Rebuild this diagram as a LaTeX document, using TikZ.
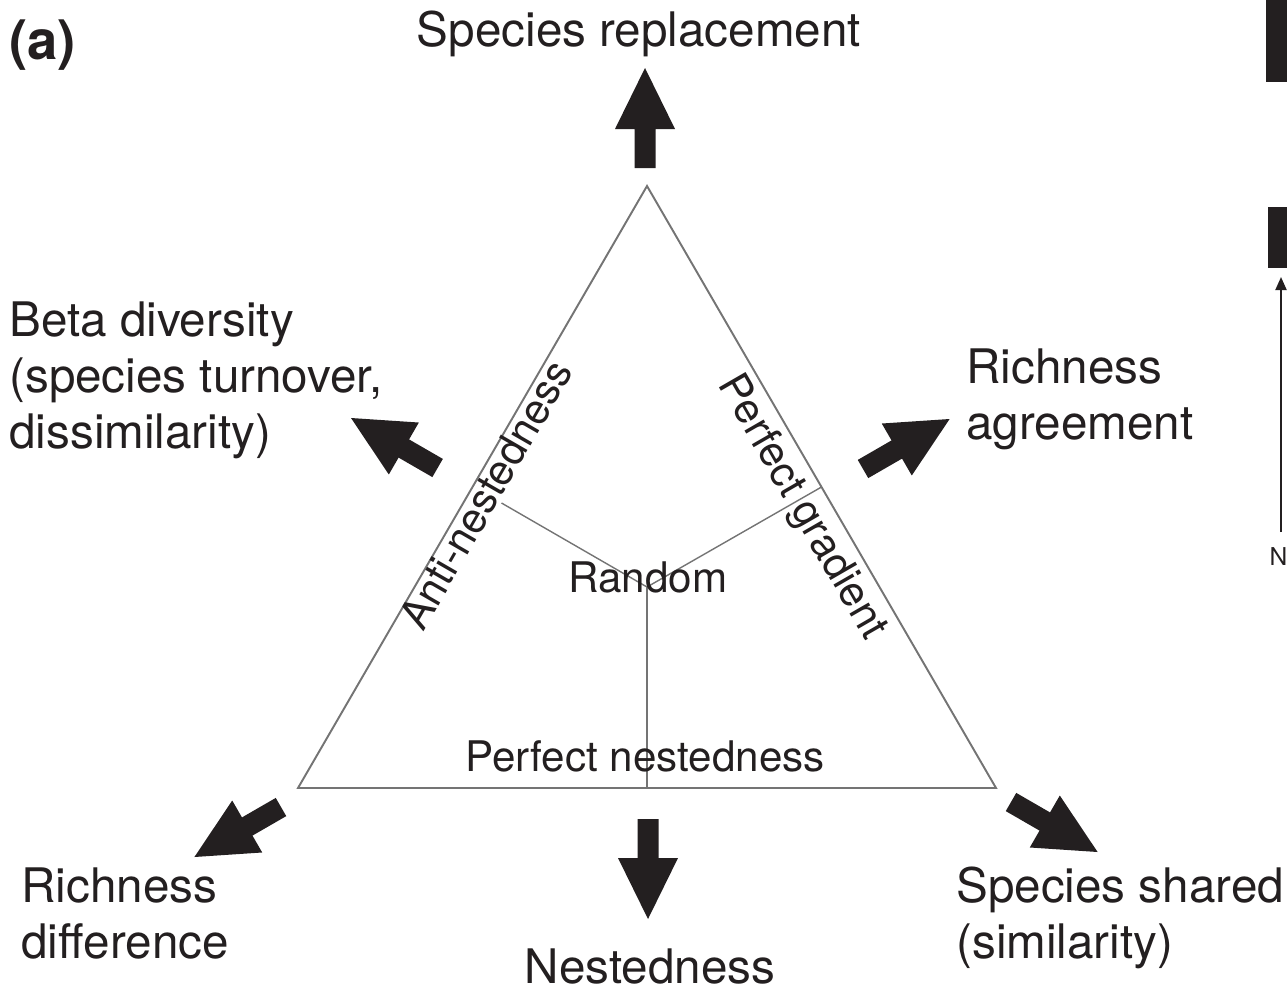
\documentclass[tikz,border=0pt]{standalone}
\usepackage{fontspec}
\setmainfont{TeX Gyre Heros}
\usetikzlibrary{arrows.meta}
\definecolor{ink}{HTML}{231F20}
\definecolor{edgegray}{HTML}{747474}
\newcommand{\blockarrow}[2]{\fill[ink, shift={(#1)}, rotate=#2] (0,-10.5) -- (39,-10.5) -- (39,-30) -- (100,0) -- (39,30) -- (39,10.5) -- (0,10.5) -- cycle;}
\begin{document}
\begin{tikzpicture}[x=0.02cm, y=-0.02cm,
  big/.style={inner sep=0, text=ink, font=\fontsize{27.1}{31.87}\selectfont},
  bigml/.style={big, align=left, anchor=north west},
  small/.style={inner sep=0, text=ink, font=\fontsize{24}{28}\selectfont},
  tri/.style={draw=edgegray, line width=1.1pt, line join=miter},
  innerline/.style={draw=edgegray, line width=0.8pt}]
\useasboundingbox (0,0) rectangle (1287,994);

% triangle
\coordinate (T) at (647,186);
\coordinate (L) at (298,788);
\coordinate (R) at (996,788);
\coordinate (C) at (647,587);
\coordinate (Bm) at (647,788);
\coordinate (Rm) at (821.5,487);
\coordinate (Le) at (501.5,503);
\draw[tri] (T) -- (L) -- (R) -- cycle;
\draw[innerline] (C) -- (Bm);
\draw[innerline] (C) -- (Rm);
\draw[innerline] (C) -- (Le);

% inner labels
\node[small, anchor=base] (rand) at (648,592) {Random};
\node[small, anchor=base] (pn) at (645,771) {Perfect nestedness};
\node[small, anchor=base, rotate=60] (anti) at (498.5,502) {Anti-nestedness};
\node[small, anchor=base, rotate=-60] (pg) at (792,513) {Perfect gradient};

% block arrows
\coordinate (aUp) at (645,168);
\coordinate (aBeta) at (437.6,468);
\coordinate (aAgr) at (863,469);
\coordinate (aDiff) at (281,807);
\coordinate (aNest) at (648,819);
\coordinate (aShared) at (1011,802);
\blockarrow{aUp}{90}
\blockarrow{aBeta}{150}
\blockarrow{aAgr}{30}
\blockarrow{aDiff}{210}
\blockarrow{aNest}{270}
\blockarrow{aShared}{330}

% outer labels
\node[inner sep=0, text=ink, anchor=base west, font=\bfseries\fontsize{31}{36}\selectfont] (pa) at (9,59) {(a)};
\node[big, anchor=base] (sr) at (639,46) {Species replacement};
\node[bigml] (beta) at (9,298.4) {\rule{0pt}{0.8em}Beta diversity\\(species turnover,\\dissimilarity)};
\node[bigml] (agr) at (966,345.4) {\rule{0pt}{0.8em}Richness\\agreement};
\node[bigml] (diff) at (21,864.4) {\rule{0pt}{0.8em}Richness\\difference};
\node[bigml] (shared) at (956,864.4) {\rule{0pt}{0.8em}Species shared\\(similarity)};
\node[big, anchor=base] (nest) at (650,983) {Nestedness};

% cropped neighbouring panel
\fill[ink] (1266,0) rectangle (1287,82);
\fill[ink] (1268,207) rectangle (1287,268);
\node[inner sep=0, text=ink, anchor=base, font=\fontsize{14}{17}\selectfont] (nlab) at (1278.5,565) {N};
\coordinate (nArrowStart) at (1281,532);
\coordinate (nArrowEnd) at (1281,277);
\draw[ink, line width=1.1pt, -{Triangle[width=0.22cm,length=0.26cm]}] (nArrowStart) -- (nArrowEnd);
\end{tikzpicture}
\end{document}
